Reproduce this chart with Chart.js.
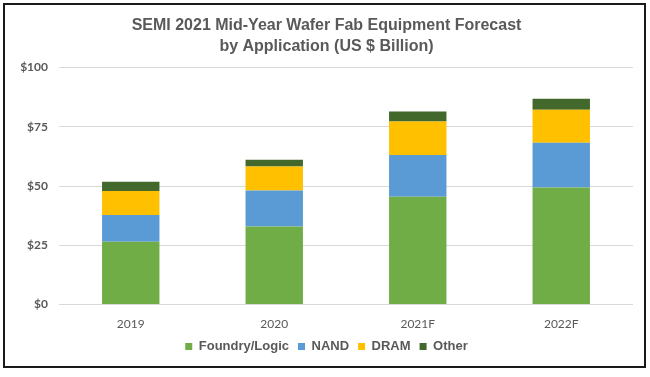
<!DOCTYPE html>
<html>
<head>
<meta charset="utf-8">
<script src="https://cdn.jsdelivr.net/npm/chart.js@4"></script>
<style>
  body { margin: 0; background: #fff; }
  canvas { display: block; }
</style>
</head>
<body>
<canvas id="chart" width="650" height="377"></canvas>
<script>
// categories and stacked values (US $ billion)
const years = ["2019", "2020", "2021F", "2022F"];
const foundry = [26.5, 32.9, 45.5, 49.4];
const nand = [11.3, 15.2, 17.6, 18.9];
const dram = [10.1, 10.2, 14.1, 13.9];
const other = [3.9, 2.8, 4.3, 4.7];
const yTicks = [0, 25, 50, 75, 100];

const grey = "#595959";

// white page and the thin black frame around it
const frame = {
    id: "frame",
    beforeDraw(chart) {
        const c = chart.ctx;
        c.save();
        c.fillStyle = "#fff";
        c.fillRect(0, 0, chart.width, chart.height);
        c.restore();
    },
    afterDraw(chart) {
        const c = chart.ctx;
        c.save();
        c.strokeStyle = "#1a1a1a";
        c.lineWidth = 2;
        c.strokeRect(4, 4, 641, 363);
        c.restore();
    }
};

const ctx = document.getElementById("chart").getContext("2d");
new Chart(ctx, {
    type: "bar",
    data: {
        labels: years,
        datasets: [
            { label: "Foundry/Logic", data: foundry, backgroundColor: "#70AD47" },
            { label: "NAND", data: nand, backgroundColor: "#5B9BD5" },
            { label: "DRAM", data: dram, backgroundColor: "#FFC000" },
            { label: "Other", data: other, backgroundColor: "#43682B" }
        ]
    },
    options: {
        responsive: false,
        animation: false,
        layout: { padding: { left: 20, right: 17, top: 0, bottom: 14 } },
        datasets: {
            bar: { categoryPercentage: 1, barPercentage: 0.4, borderWidth: 0 }
        },
        plugins: {
            title: {
                display: true,
                text: ["SEMI 2021 Mid-Year Wafer Fab Equipment Forecast", "by Application (US $ Billion)"],
                color: grey,
                font: { family: "'Liberation Sans', Arial", size: 16, weight: "bold", lineHeight: 1.3 },
                padding: { top: 15, bottom: 11 }
            },
            legend: {
                position: "bottom",
                labels: {
                    color: grey,
                    boxWidth: 7,
                    boxHeight: 7,
                    padding: 9,
                    font: { family: "'Liberation Sans', Arial", size: 13, weight: "bold" }
                }
            },
            tooltip: { enabled: false }
        },
        scales: {
            x: {
                stacked: true,
                grid: { display: false, drawTicks: false },
                border: { display: false },
                ticks: {
                    color: grey,
                    padding: 12,
                    font: { family: "Lato", size: 12 }
                },
                afterFit(scale) { scale.height = 26.5; }
            },
            y: {
                stacked: true,
                min: 0,
                max: 100,
                afterBuildTicks(scale) { scale.ticks = yTicks.map(v => ({ value: v })); },
                grid: { color: "#D9D9D9", lineWidth: 1, drawTicks: false },
                border: { display: false },
                ticks: {
                    color: grey,
                    padding: 11,
                    font: { family: "Lato", size: 12, weight: "bold" },
                    callback: v => "$" + v
                },
                afterFit(scale) { scale.width = 39; }
            }
        }
    },
    plugins: [frame]
});
</script>
</body>
</html>
